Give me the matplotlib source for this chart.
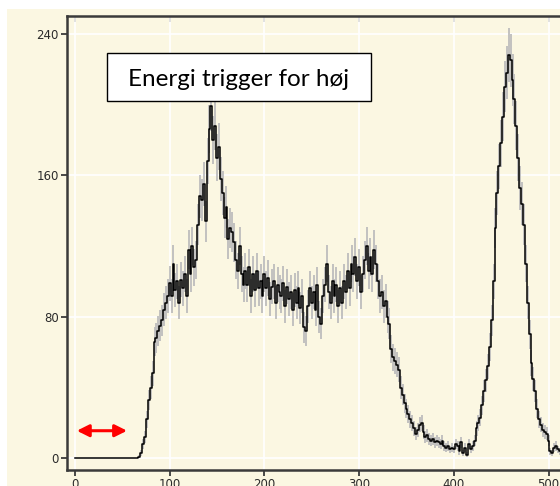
import numpy as np
import matplotlib
matplotlib.use('Agg')
import matplotlib.pyplot as plt
from matplotlib.patches import Rectangle

# channel (every 2nd channel) and counts
channels = np.arange(0, 518, 2)
counts = [
    0, 0, 0, 0, 0, 0, 0, 0, 0, 0, 0, 0, 0, 0, 0, 0, 0,
    0, 0, 0, 0, 0, 0, 0, 0, 0, 0, 0, 0, 0, 0, 0, 0,
    0, 1, 3, 8, 12, 22, 33, 40, 48, 66, 68, 72, 75, 78, 84, 88, 92,   # 66-98
    99, 92, 110, 95, 100, 88, 101, 96, 104, 92, 118, 104, 120, 108, 112,  # 100-128
    132, 148, 146, 155, 134, 168, 186, 199, 180, 188, 170, 176, 158,  # 130-154
    150, 136, 142, 124, 130, 128, 122, 112, 106, 120, 104, 98, 106,  # 156-180
    98, 108, 92, 104, 95, 106, 96, 100, 92, 104, 96, 102, 90, 97,  # 182-208
    100, 88, 98, 94, 92, 99, 86, 97, 90, 94, 84, 95, 88, 96, 85,  # 210-238
    92, 74, 72, 86, 96, 88, 94, 84, 98, 80, 76, 92, 98, 110, 94,  # 240-268
    88, 100, 92, 98, 86, 96, 88, 100, 94, 106, 96, 110, 104, 114, 100,  # 270-298
    108, 94, 104, 112, 120, 106, 114, 104, 118, 110, 100, 92, 94, 86,  # 300-326
    89, 80, 76, 62, 57, 55, 53, 50, 40, 36, 31, 28, 25, 22, 20,  # 328-356
    17, 14, 16, 19, 20, 15, 12, 13, 11, 10, 11, 9, 10, 9, 8, 10,  # 358-388
    7, 6, 7, 5, 6, 5, 8, 7, 4, 9, 3, 6, 2, 8, 5, 7,  # 390-420
    10, 17, 20, 23, 30, 38, 44, 52, 63, 78, 100, 130, 150, 165,  # 422-448
    178, 193, 210, 218, 228, 225, 214, 203, 188, 170, 153, 144,  # 450-472
    132, 110, 88, 70, 54, 45, 38, 28, 22, 19, 16, 15, 14, 10,  # 474-500
    4, 3, 6, 7, 5, 4, 3, 4,  # 502-516
]
counts = np.array(counts, dtype=float)
errors = np.sqrt(counts)

x_ticks = [0, 100, 200, 300, 400, 500]
y_ticks = [0, 80, 160, 240]
label = 'Energi trigger for høj'

bg = '#fbf7e2'

fig = plt.figure(figsize=(5.6, 4.86), dpi=100)
fig.patch.set_facecolor('white')
fig.add_artist(Rectangle((7 / 560, 0), 1, 1 - 9 / 486, transform=fig.transFigure,
                         facecolor=bg, edgecolor='none', zorder=-10))

ax = fig.add_axes([67 / 560, 16 / 486, 500 / 560, 454 / 486])
ax.set_facecolor(bg)

# error bars then the spectrum line
ax.vlines(channels, counts - errors, counts + errors, color='#bdbdbd', lw=1.3, zorder=2)
ax.step(channels, counts, where='mid', color='black', lw=1.1, zorder=3)

ax.set_xlim(-8.4, 519.5)
ax.set_ylim(-6.6, 250)
ax.set_xticks(x_ticks)
ax.set_yticks(y_ticks)
ax.grid(True, color='white', lw=1.2, zorder=0)
ax.set_axisbelow(True)

for s in ['left', 'bottom', 'top']:
    ax.spines[s].set_color('#3a3a3a')
    ax.spines[s].set_linewidth(1.8)
ax.spines['right'].set_visible(False)
ax.tick_params(axis='both', direction='out', length=4, width=1.3, color='#3a3a3a',
               labelsize=8.5, labelcolor='#2a2a2a', pad=2)
top = ax.secondary_xaxis('top')
top.set_xticks(x_ticks)
top.tick_params(direction='in', length=4, width=1.3, color='#3a3a3a', labeltop=False)
top.spines['top'].set_visible(False)

# red double arrow
ax.annotate('', xy=(2, 15.6), xytext=(55, 15.6),
            arrowprops=dict(arrowstyle='<|-|>', color='red', lw=2.2,
                            mutation_scale=18, shrinkA=0, shrinkB=0))

# label box
fig.add_artist(Rectangle((107 / 560, (486 - 101) / 486), 264 / 560, 48 / 486,
                         transform=fig.transFigure, facecolor='white',
                         edgecolor='black', lw=1.0, zorder=5))
fig.text(239 / 560, (486 - 86) / 486, label, ha='center', va='baseline',
         fontsize=17.5, family='Lato', zorder=6)

fig.savefig('out.png', dpi=100)
